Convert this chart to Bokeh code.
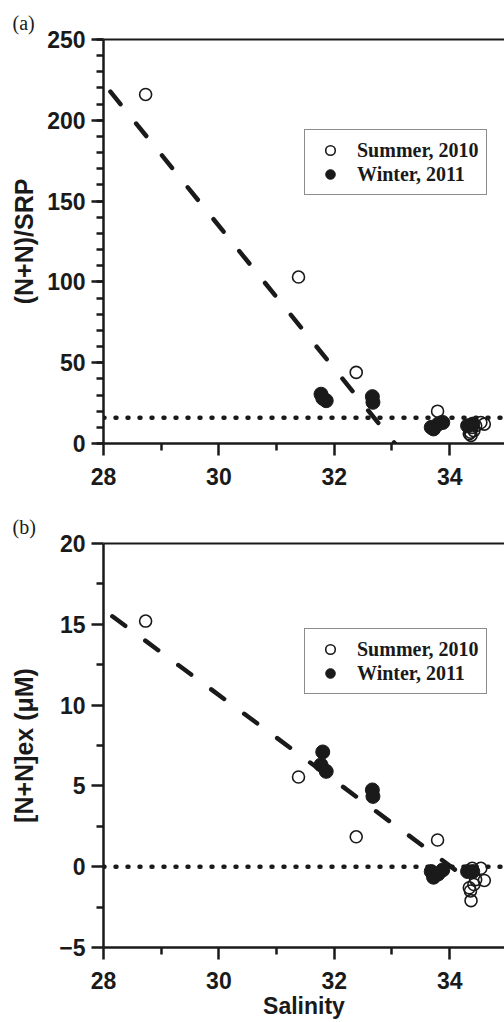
from bokeh.plotting import figure
from bokeh.models import Range1d, FixedTicker, LinearAxis, Legend, LegendItem
from bokeh.layouts import column
from bokeh.embed import file_html
from bokeh.resources import INLINE

# ---------------- data ----------------
summer_sal = [28.73, 31.38, 32.38, 33.79, 34.34, 34.36, 34.37, 34.39, 34.42, 34.45, 34.54, 34.60]
summer_ratio = [216, 103, 44, 20, 6, 7, 5, 10, 8, 11, 13, 12]
summer_exn = [15.2, 5.55, 1.85, 1.65, -1.3, -1.5, -2.1, -0.1, -1.1, -0.8, -0.1, -0.85]

winter_sal = [31.77, 31.80, 31.86, 32.66, 32.67, 33.68, 33.72, 33.80, 33.88, 34.31, 34.40]
winter_ratio = [30.5, 28, 26.5, 29, 25.5, 10, 9, 12, 13, 11, 12]
winter_exn = [6.3, 7.1, 5.9, 4.75, 4.35, -0.3, -0.65, -0.45, -0.2, -0.3, -0.3]

fit_a_x = [28.0, 33.05]
fit_a_y = [223.0, 0.0]
fit_b_x = [28.0, 34.25]
fit_b_y = [15.9, -0.6]

ref_a = 16.0      # Redfield N:P
ref_b = 0.0

x_start, x_end = 28.0, 34.95
x_ticks = [28, 30, 32, 34]
x_minor = [29, 31, 33, 35]
ya_ticks = [0, 50, 100, 150, 200, 250]
ya_minor = [v for v in range(0, 251, 10)]
yb_ticks = [-5, 0, 5, 10, 15, 20]
yb_minor = [-2.5, 2.5, 7.5, 12.5, 17.5]

labels = ["Summer, 2010", "Winter, 2011"]

SANS = "Liberation Sans"
SERIF = "Liberation Serif"
INK = "#1a1a1a"


def style_axis(ax, label_standoff, label_size):
    ax.axis_line_width = 2.5
    ax.axis_line_color = INK
    ax.major_tick_line_width = 2.5
    ax.minor_tick_line_width = 2.5
    ax.major_tick_line_color = INK
    ax.minor_tick_line_color = INK
    ax.major_tick_in = 0
    ax.major_tick_out = 12
    ax.minor_tick_in = 0
    ax.minor_tick_out = 7
    ax.major_label_text_font = SANS
    ax.major_label_text_font_style = "bold"
    ax.major_label_text_font_size = "23px"
    ax.major_label_text_color = INK
    ax.axis_label_text_font = SANS
    ax.axis_label_text_font_style = "bold"
    ax.axis_label_text_font_size = label_size
    ax.axis_label_text_color = INK
    ax.axis_label_standoff = label_standoff


def make_panel(height, top, bottom, y_range, yt, ym, ylabel, xlabel,
               s_y, w_y, fx, fy, ref, leg_bottom, tag, ylab_standoff):
    p = figure(width=504, height=height, output_backend="svg", toolbar_location=None,
               x_range=Range1d(x_start, x_end), y_range=Range1d(*y_range),
               min_border_left=103, min_border_right=0,
               min_border_top=top, min_border_bottom=bottom,
               background_fill_color="white", border_fill_color="white")
    p.outline_line_color = None
    p.grid.visible = False

    p.title.text = tag
    p.title.text_font = SERIF
    p.title.text_font_style = "normal"
    p.title.text_font_size = "20px"
    p.title.text_color = INK
    p.title.align = "left"
    p.title.offset = -91
    p.title.standoff = 11

    p.xaxis.ticker = FixedTicker(ticks=x_ticks, minor_ticks=x_minor)
    p.yaxis.ticker = FixedTicker(ticks=yt, minor_ticks=ym)
    style_axis(p.xaxis[0], 1, "23px")
    style_axis(p.yaxis[0], ylab_standoff, "25px")
    p.xaxis.major_label_standoff = 12
    p.yaxis.major_label_standoff = 6
    p.xaxis.axis_label = xlabel
    p.yaxis.axis_label = ylabel

    top_ax = LinearAxis(ticker=FixedTicker(ticks=[], minor_ticks=[]),
                        major_tick_out=0, minor_tick_out=0, major_label_standoff=0,
                        axis_line_width=2, axis_line_color=INK)
    p.add_layout(top_ax, "above")

    # reference (dotted) line
    p.line([x_start, x_end], [ref, ref], line_color=INK, line_width=4.5,
           line_dash="1 11", line_cap="round")
    # regression (dashed) line
    p.line(fx, fy, line_color=INK, line_width=4.5, line_dash="16 25",
           line_cap="round", line_dash_offset=30)

    r_s = p.scatter(summer_sal, s_y, size=12, marker="circle", fill_color=None,
                    line_color=INK, line_width=1.6)
    r_w = p.scatter(winter_sal, w_y, size=14, marker="circle", fill_color=INK,
                    line_color=INK, line_width=1)

    leg = Legend(items=[LegendItem(label=labels[0], renderers=[r_s]),
                        LegendItem(label=labels[1], renderers=[r_w])],
                 location=(201, leg_bottom))
    leg.label_text_font = SERIF
    leg.label_text_font_style = "bold"
    leg.label_text_font_size = "20px"
    leg.label_text_color = INK
    leg.padding = 8
    leg.spacing = 0
    leg.margin = 0
    leg.glyph_width = 34
    leg.glyph_height = 24
    leg.label_height = 24
    leg.label_standoff = 10
    leg.border_line_color = INK
    leg.border_line_width = 1.3
    leg.background_fill_alpha = 1
    p.add_layout(leg, "center")
    return p


pa = make_panel(500, 39, 57, (0, 250), ya_ticks, ya_minor, "(N+N)/SRP", "",
                summer_ratio, winter_ratio, fit_a_x, fit_a_y, ref_a, 248, "(a)", 6)
pb = make_panel(522, 43, 75, (-5, 20), yb_ticks, yb_minor, "[N+N]ex (\u03bcM)", "Salinity",
                summer_exn, winter_exn, fit_b_x, fit_b_y, ref_b, 253, "(b)", 18)

layout = column(pa, pb, spacing=0)
open("out.html", "w").write(file_html(layout, INLINE))
